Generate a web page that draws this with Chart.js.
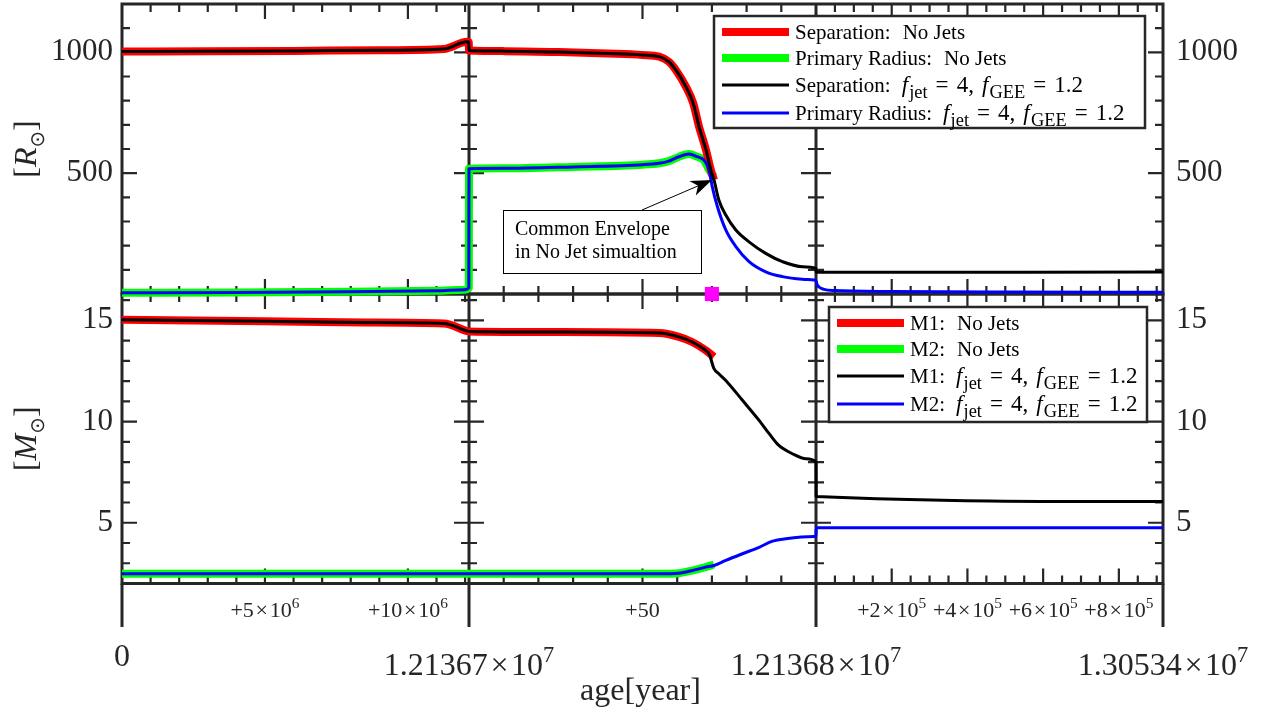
<!DOCTYPE html>
<html>
<head>
<meta charset="utf-8">
<script src="https://cdn.jsdelivr.net/npm/chart.js@4.4.0/dist/chart.umd.min.js"></script>
<style>
html, body { margin: 0; padding: 0; background: #fff; }
#wrap { position: relative; width: 1271px; height: 717px; overflow: hidden; }
#topChart { position: absolute; left: 0; top: 0; z-index: 2; }
#botChart { position: absolute; left: 0; top: 280px; z-index: 1; }
</style>
</head>
<body>
<div id="wrap">
  <canvas id="topChart" width="1271" height="330"></canvas>
  <canvas id="botChart" width="1271" height="437"></canvas>
</div>
<script>
// ================= DATA =================
// the age axis is broken in three pieces
const breakAges = [0, 12136700, 12136800, 13053400];
const breakText = ['0', '1.21367×10^7', '1.21368×10^7', '1.30534×10^7'];
const offsetTickAges = [5e6, 1e7, 12136750, 12336800, 12536800, 12736800, 12936800];
const offsetTickText = ['+5×10^6', '+10×10^6', '+50', '+2×10^5', '+4×10^5', '+6×10^5', '+8×10^5'];

// separation [Rsun], common part of both runs
const sepAge = [0, 3.0e6, 6.0e6, 9.0e6, 1.126e7, 1.207e7, 1.2128e7, 12136700, 12136710, 12136725.9,
  12136740, 12136750, 12136754.8, 12136757.6, 12136759.6, 12136762.5, 12136764.6, 12136766.3,
  12136768.3, 12136769.7, 12136770.6];
const sepVal = [1003, 1004, 1006, 1009, 1014, 1044, 1043, 1008, 1005, 1001,
  995, 989, 982, 961, 927, 858, 790, 692, 596, 513, 472];
// separation, jets run after the no-jet run stops
const sepJetAge = [12136772.0, 12136774.0, 12136776.9, 12136780.7, 12136785.5, 12136790.3, 12136796.1,
  12136800, 12137100, 13053400];
const sepJetVal = [389, 327, 265, 216, 168, 134, 113, 106, 90, 91];

// primary radius [Rsun]
const radAge = [0, 4e6, 8e6, 1.1e7, 1.2e7, 1.2130e7, 12136700, 12136710, 12136730, 12136750,
  12136754.8, 12136757.6, 12136760.5, 12136763.4, 12136765.8, 12136767.7, 12136769.2];
const radVal = [5, 6, 9, 13, 18, 25, 518, 520, 526, 535, 541, 550, 568, 579, 568, 554, 513];
const radNoJetEndAge = [12136770.6];
const radNoJetEndVal = [485];
const radJetAge = [12136770.1, 12136771.6, 12136774.0, 12136776.9, 12136780.7, 12136785.5, 12136790.3,
  12136796.1, 12136799.4, 12136800, 12139449, 12144747, 12157992, 12184482, 12336800, 12636800, 13053400];
const radJetVal = [444, 361, 265, 196, 134, 92, 72, 61, 58, 55, 40, 29, 19, 14, 10, 8, 7];

// common envelope point of the no-jet run
const ceAge = 12136770;
const ceRadius = 472;

// M1 [Msun]
const m1Age = [0, 5.0e6, 8.5e6, 1.126e7, 1.207e7, 12136700, 12136725.9, 12136754.8, 12136760.5,
  12136764.3, 12136768.2];
const m1Val = [15.03, 14.95, 14.89, 14.84, 14.47, 14.45, 14.42, 14.37, 14.18, 13.93, 13.52];
const m1NoJetEndAge = [12136770.6];
const m1NoJetEndVal = [13.19];
const m1JetAge = [12136769.2, 12136770.6, 12136772.0, 12136774.0, 12136778.8, 12136783.6, 12136786.5,
  12136789.3, 12136793.2, 12136797.1, 12136800, 12137300, 13053400];
const m1JetVal = [13.35, 12.61, 12.36, 12.03, 11.05, 10.06, 9.40, 8.82, 8.41, 8.16, 8.0, 6.30, 6.05];

// M2 [Msun]
const m2Age = [0, 6e6, 12136700, 12136754.8, 12136760.5, 12136764.3, 12136768.2];
const m2Val = [2.48, 2.48, 2.48, 2.48, 2.51, 2.64, 2.81];
const m2NoJetEndAge = [12136770.6];
const m2NoJetEndVal = [2.94];
const m2JetAge = [12136770.6, 12136774.0, 12136778.8, 12136783.6, 12136787.5, 12136791.3, 12136799.5,
  12136800, 12137300, 13053400];
const m2JetVal = [2.89, 3.14, 3.47, 3.79, 4.09, 4.21, 4.32, 4.33, 4.75, 4.75];

// ================= HELPERS =================
const axisColor = '#262626';
const serif = '"Liberation Serif", "Times New Roman", serif';
const xTickSteps = [{minor: 1e6, major: 5e6}, {minor: 10, major: 50}, {minor: 5e4, major: 2e5}];

// age -> position on the broken axis (0..3)
function toAxis(age) {
  for (let i = 0; i < 3; i++) {
    if (age <= breakAges[i + 1]) return i + (age - breakAges[i]) / (breakAges[i + 1] - breakAges[i]);
  }
  return 3;
}
function pts(ages, vals) {
  return ages.map((a, i) => ({x: toAxis(a), y: vals[i]}));
}

// small rich text: [text, kind]
function runs(ctx, parts, size, x, y, draw) {
  let cx = x;
  for (const [t, k] of parts) {
    if (k === 'g') { cx += t * size; continue; }
    let fs = size, dy = 0, style = '', fam = serif, gap = 0;
    if (k === 'i') style = 'italic ';
    if (k === 'sub') { fs = size * 0.8; dy = size * 0.28; }
    if (k === 'sup') { fs = size * 0.7; dy = -size * 0.42; }
    if (k === 'sym') { fs = size * 0.62; dy = size * 0.24; fam = '"DejaVu Sans"'; }
    if (k === 'x') gap = size * 0.08;
    ctx.font = style + fs + 'px ' + fam;
    cx += gap;
    if (draw) ctx.fillText(t, cx, y + dy);
    cx += ctx.measureText(t).width + gap;
  }
  return cx - x;
}
function texParts(s) {
  const [base, sup] = s.split('^');
  const parts = [];
  base.split('×').forEach((b, i) => {
    if (i > 0) parts.push(['×', 'x']);
    if (b) parts.push([b, '']);
  });
  if (sup) parts.push([sup, 'sup']);
  return parts;
}

const jetParts = [['f', 'i'], [0.05, 'g'], ['jet', 'sub'], [0.35, 'g'], ['=', ''], [0.35, 'g'], ['4,', ''],
  [0.35, 'g'], ['f', 'i'], [0.05, 'g'], ['GEE', 'sub'], [0.35, 'g'], ['=', ''], [0.35, 'g'], ['1.2', '']];

// ================= PLUGINS =================
const frame = {
  id: 'frame',
  beforeDatasetsDraw(chart, args, o) {
    const {ctx, chartArea: a} = chart;
    const xs = chart.scales.x, ys = chart.scales.y;
    ctx.save();
    ctx.strokeStyle = axisColor;
    ctx.lineWidth = 2.2;
    ctx.beginPath();
    xTickSteps.forEach((st, i) => {
      const span = breakAges[i + 1] - breakAges[i];
      for (let k = 1; k * st.minor < span * 0.999; k++) {
        const v = k * st.minor;
        const px = xs.getPixelForValue(i + v / span);
        const r = v / st.major;
        const len = Math.abs(r - Math.round(r)) < 1e-9 ? 15 : 8;
        ctx.moveTo(px, a.top); ctx.lineTo(px, a.top + len);
        ctx.moveTo(px, a.bottom); ctx.lineTo(px, a.bottom - len);
      }
    });
    for (let k = Math.ceil(ys.min / o.yStep); k * o.yStep <= ys.max; k++) {
      const v = k * o.yStep;
      if (v <= ys.min || v >= ys.max) continue;
      const py = ys.getPixelForValue(v);
      const len = o.yMajor.includes(v) ? 15 : 8;
      for (let i = 0; i < 4; i++) {
        const bx = xs.getPixelForValue(i);
        if (i < 3) { ctx.moveTo(bx, py); ctx.lineTo(bx + len, py); }
        if (i > 0) { ctx.moveTo(bx, py); ctx.lineTo(bx - len, py); }
      }
    }
    ctx.stroke();
    ctx.lineWidth = 3;
    ctx.strokeRect(a.left, a.top, a.width, a.height);
    ctx.beginPath();
    [1, 2].forEach(i => {
      const bx = xs.getPixelForValue(i);
      ctx.moveTo(bx, a.top); ctx.lineTo(bx, a.bottom);
    });
    ctx.stroke();
    ctx.restore();
  }
};

const decor = {
  id: 'decor',
  afterDatasetsDraw(chart, args, o) {
    const {ctx, chartArea: a} = chart;
    ctx.save();
    // y title
    ctx.fillStyle = axisColor;
    ctx.translate(28, (a.top + a.bottom) / 2);
    ctx.rotate(-Math.PI / 2);
    const tw = runs(ctx, o.yTitle, 32, 0, 0, false);
    runs(ctx, o.yTitle, 32, -tw / 2, 8, true);
    ctx.setTransform(1, 0, 0, 1, 0, 0);

    // legend
    const L = o.legend;
    const by = a.top + L.dy;
    ctx.fillStyle = '#fff';
    ctx.fillRect(L.x, by, L.w, L.h);
    ctx.strokeStyle = axisColor;
    ctx.lineWidth = 2.5;
    ctx.strokeRect(L.x, by, L.w, L.h);
    L.items.forEach((it, r) => {
      const ds = chart.data.datasets[it.ds];
      const ry = by + L.rows[r];
      ctx.strokeStyle = ds.borderColor;
      ctx.lineWidth = ds.borderWidth;
      ctx.beginPath();
      ctx.moveTo(L.x + 8, ry); ctx.lineTo(L.x + 75, ry);
      ctx.stroke();
      ctx.fillStyle = '#000';
      const w = runs(ctx, [[it.name, '']], 21, L.x + 81, ry + 6.5, true);
      if (it.jets) runs(ctx, jetParts, 23, L.x + 81 + w + 11, ry + 6.5, true);
      else runs(ctx, [['No Jets', '']], 21, L.x + 81 + w + 12, ry + 6.5, true);
    });
    ctx.restore();
  }
};

const ceNote = {
  id: 'ceNote',
  afterDatasetsDraw(chart) {
    const {ctx} = chart;
    const tx = chart.scales.x.getPixelForValue(toAxis(ceAge));
    const ty = chart.scales.y.getPixelForValue(ceRadius);
    const bx = 503, by = 210, bw = 198, bh = 63;
    ctx.save();
    ctx.fillStyle = '#fff';
    ctx.fillRect(bx, by, bw, bh);
    ctx.strokeStyle = '#000';
    ctx.lineWidth = 1;
    ctx.strokeRect(bx + 0.5, by + 0.5, bw, bh);
    ctx.fillStyle = '#000';
    ctx.font = '20px ' + serif;
    ctx.fillText('Common Envelope', bx + 12, by + 25);
    ctx.fillText('in No Jet simualtion', bx + 12, by + 48);
    // arrow
    const sx = 642, sy = by;
    const ang = Math.atan2(ty - sy, tx - sx);
    const hl = 21, hw = 8, notch = 6;
    const c = Math.cos(ang), s = Math.sin(ang);
    ctx.lineWidth = 1;
    ctx.beginPath();
    ctx.moveTo(sx, sy);
    ctx.lineTo(tx - c * (hl - notch), ty - s * (hl - notch));
    ctx.stroke();
    ctx.beginPath();
    ctx.moveTo(tx, ty);
    ctx.lineTo(tx - c * hl - s * hw, ty - s * hl + c * hw);
    ctx.lineTo(tx - c * (hl - notch), ty - s * (hl - notch));
    ctx.lineTo(tx - c * hl + s * hw, ty - s * hl - c * hw);
    ctx.closePath();
    ctx.fill();
    ctx.restore();
  }
};

const ageAxis = {
  id: 'ageAxis',
  afterDraw(chart) {
    const {ctx, chartArea: a} = chart;
    const xs = chart.scales.x;
    ctx.save();
    ctx.strokeStyle = axisColor;
    ctx.lineWidth = 3;
    ctx.beginPath();
    for (let i = 0; i < 4; i++) {
      const bx = xs.getPixelForValue(i);
      ctx.moveTo(bx, a.bottom); ctx.lineTo(bx, a.bottom + 43.5);
    }
    ctx.stroke();
    ctx.fillStyle = axisColor;
    offsetTickAges.forEach((age, i) => {
      const p = texParts(offsetTickText[i]);
      const px = xs.getPixelForValue(toAxis(age));
      const w = runs(ctx, p, 22, 0, 0, false);
      runs(ctx, p, 22, px - w / 2, a.bottom + 33.5, true);
    });
    breakAges.forEach((age, i) => {
      const p = texParts(breakText[i]);
      const px = xs.getPixelForValue(i);
      const w = runs(ctx, p, 32, 0, 0, false);
      runs(ctx, p, 32, px - w / 2, a.bottom + (i === 0 ? 82.5 : 91.5), true);
    });
    ctx.font = '32px ' + serif;
    ctx.textAlign = 'center';
    ctx.fillText('age[year]', (a.left + a.right) / 2 - 2, a.bottom + 116.5);
    ctx.restore();
  }
};

// ================= AXES =================
function yAxis(pos, min, max, ticks) {
  return {
    position: pos, min: min, max: max,
    grid: {display: false, drawTicks: false},
    border: {display: false},
    afterBuildTicks: s => { s.ticks = ticks.map(v => ({value: v})); },
    afterFit: s => { s.width = pos === 'left' ? 122 : 108; s.paddingTop = 0; s.paddingBottom = 0; },
    ticks: {
      color: axisColor, padding: pos === 'left' ? 9 : 13,
      font: {family: serif, size: 31},
      callback: v => String(v)
    }
  };
}

function baseOptions(padTop, padBottom, yMin, yMax, yTicks, yStep, decorOpts) {
  return {
    responsive: false, animation: false, devicePixelRatio: 1,
    layout: {padding: {top: padTop, bottom: padBottom, left: 0, right: 0}, autoPadding: false},
    elements: {
      point: {radius: 0},
      line: {cubicInterpolationMode: 'monotone', borderCapStyle: 'butt', borderJoinStyle: 'round'}
    },
    plugins: {
      legend: {display: false}, tooltip: {enabled: false},
      frame: {yStep: yStep, yMajor: yTicks},
      decor: decorOpts
    },
    scales: {
      x: {type: 'linear', min: 0, max: 3, display: false},
      y: yAxis('left', yMin, yMax, yTicks),
      yr: yAxis('right', yMin, yMax, yTicks)
    }
  };
}

// ================= TOP: SEPARATION / RADIUS =================
new Chart(document.getElementById('topChart'), {
  type: 'line',
  data: {
    datasets: [
      {label: 'Separation: jets', data: pts(sepAge.concat(sepJetAge), sepVal.concat(sepJetVal)),
        borderColor: '#000000', borderWidth: 3, order: 1, clip: false},
      {label: 'Primary Radius: jets', data: pts(radAge.concat(radJetAge), radVal.concat(radJetVal)),
        borderColor: '#0000ff', borderWidth: 3, order: 2, clip: false},
      {label: 'Separation: No Jets', data: pts(sepAge, sepVal),
        borderColor: '#ff0000', borderWidth: 8, order: 3, clip: false},
      {label: 'Primary Radius: No Jets', data: pts(radAge.concat(radNoJetEndAge), radVal.concat(radNoJetEndVal)),
        borderColor: '#00ff00', borderWidth: 8, order: 4, clip: false},
      {type: 'scatter', label: 'CE', data: [{x: toAxis(ceAge), y: 0}],
        pointStyle: 'rect', pointRadius: 10, backgroundColor: '#ff00ff', borderWidth: 0, order: 0, clip: false}
    ]
  },
  options: baseOptions(4, 36, 0, 1200, [500, 1000], 100, {
    yTitle: [['[', ''], ['R', 'i'], ['⊙', 'sym'], [']', '']],
    legend: {x: 714, dy: 12, w: 431, h: 112, rows: [16, 42, 69, 97], items: [
      {ds: 2, name: 'Separation:'}, {ds: 3, name: 'Primary Radius:'},
      {ds: 0, name: 'Separation:', jets: true}, {ds: 1, name: 'Primary Radius:', jets: true}
    ]}
  }),
  plugins: [frame, decor, ceNote]
});

// ================= BOTTOM: MASSES =================
new Chart(document.getElementById('botChart'), {
  type: 'line',
  data: {
    datasets: [
      {label: 'M1: jets', data: pts(m1Age.concat(m1JetAge), m1Val.concat(m1JetVal)),
        borderColor: '#000000', borderWidth: 3, order: 1, clip: false},
      {label: 'M2: jets', data: pts(m2Age.concat(m2JetAge), m2Val.concat(m2JetVal)),
        borderColor: '#0000ff', borderWidth: 3, order: 2, clip: false},
      {label: 'M1: No Jets', data: pts(m1Age.concat(m1NoJetEndAge), m1Val.concat(m1NoJetEndVal)),
        borderColor: '#ff0000', borderWidth: 8, order: 3, clip: false},
      {label: 'M2: No Jets', data: pts(m2Age.concat(m2NoJetEndAge), m2Val.concat(m2NoJetEndVal)),
        borderColor: '#00ff00', borderWidth: 8, order: 4, clip: false}
    ]
  },
  options: baseOptions(14, 133.5, 2, 16.3, [5, 10, 15], 1, {
    yTitle: [['[', ''], ['M', 'i'], ['⊙', 'sym'], [']', '']],
    legend: {x: 829, dy: 13, w: 318, h: 115, rows: [16, 42, 69, 97], items: [
      {ds: 2, name: 'M1:'}, {ds: 3, name: 'M2:'},
      {ds: 0, name: 'M1:', jets: true}, {ds: 1, name: 'M2:', jets: true}
    ]}
  }),
  plugins: [frame, decor, ageAxis]
});
</script>
</body>
</html>
